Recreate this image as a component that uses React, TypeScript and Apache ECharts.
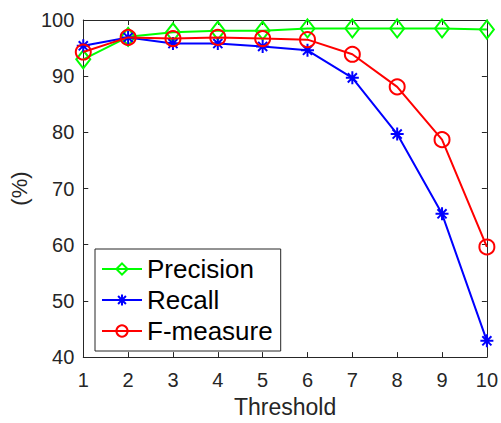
import React, { useEffect, useRef } from "react";
import * as echarts from "echarts";

const thresholds = [1, 2, 3, 4, 5, 6, 7, 8, 9, 10];
const precision = [93.0, 97.0, 97.8, 98.1, 98.1, 98.5, 98.5, 98.5, 98.5, 98.3];
const recall = [95.4, 96.9, 95.8, 95.8, 95.3, 94.6, 89.7, 79.7, 65.5, 42.9];
const fmeasure = [94.3, 96.9, 96.7, 96.9, 96.7, 96.5, 93.9, 88.1, 78.7, 59.6];
const seriesNames = ["Precision", "Recall", "F-measure"];

const FONT = "Liberation Sans, Arial, Helvetica, sans-serif";
const AX = "#262626";
const STAR = "path://M10,0 L10,20 M0,10 L20,10 M3,3 L17,17 M3,17 L17,3";

export default function App() {
  const ref = useRef<HTMLDivElement>(null);
  useEffect(() => {
    if (!ref.current) return;
    const chart = echarts.init(ref.current, null, { renderer: "svg" });
    const pairs = (vals: number[]) => thresholds.map((t, i) => [t, vals[i]]);
    const axisCommon = {
      axisLine: { show: true, lineStyle: { color: AX, width: 1 } },
      axisTick: { show: true, inside: true, length: 5, lineStyle: { color: AX } },
      splitLine: { show: false },
    };
    chart.setOption({
      animation: false,
      backgroundColor: "#fff",
      textStyle: { fontFamily: FONT },
      grid: { left: 82, right: 12, top: 20, bottom: 58, containLabel: false },
      legend: {
        data: seriesNames,
        orient: "vertical",
        left: 95,
        top: 249,
        padding: [7, 8, 7, 6],
        itemGap: 5,
        itemWidth: 40,
        itemHeight: 14,
        borderColor: AX,
        borderWidth: 1,
        backgroundColor: "#fff",
        textStyle: { fontSize: 26, color: "#000", fontFamily: FONT, lineHeight: 26 },
      },
      xAxis: [
        {
          type: "value",
          min: 1,
          max: 10,
          interval: 1,
          name: "Threshold",
          nameLocation: "middle",
          nameGap: 35,
          nameTextStyle: { fontSize: 23, color: AX, fontFamily: FONT },
          axisLabel: { fontSize: 20, color: AX, margin: 13, fontFamily: FONT },
          ...axisCommon,
        },
        {
          type: "value",
          min: 1,
          max: 10,
          interval: 1,
          position: "top",
          axisLabel: { show: false },
          ...axisCommon,
        },
      ],
      yAxis: [
        {
          type: "value",
          min: 40,
          max: 100,
          interval: 10,
          name: "(%)",
          nameLocation: "middle",
          nameGap: 49,
          nameRotate: 90,
          nameTextStyle: { fontSize: 22, color: AX, fontFamily: FONT },
          axisLabel: { fontSize: 20, color: AX, margin: 9, fontFamily: FONT },
          ...axisCommon,
        },
        {
          type: "value",
          min: 40,
          max: 100,
          interval: 10,
          position: "right",
          axisLabel: { show: false },
          ...axisCommon,
        },
      ],
      series: [
        {
          name: seriesNames[0],
          type: "line",
          data: pairs(precision),
          symbol: "diamond",
          symbolSize: [14, 18],
          lineStyle: { color: "#00ff00", width: 2 },
          itemStyle: { color: "rgba(0,0,0,0)", borderColor: "#00ff00", borderWidth: 2 },
          z: 2,
        },
        {
          name: seriesNames[1],
          type: "line",
          data: pairs(recall),
          symbol: STAR,
          symbolSize: 13,
          lineStyle: { color: "#0000ff", width: 2 },
          itemStyle: { color: "#0000ff", borderColor: "#0000ff", borderWidth: 2 },
          z: 3,
        },
        {
          name: seriesNames[2],
          type: "line",
          data: pairs(fmeasure),
          symbol: "circle",
          symbolSize: 15,
          lineStyle: { color: "#ff0000", width: 2 },
          itemStyle: { color: "rgba(0,0,0,0)", borderColor: "#ff0000", borderWidth: 2 },
          z: 4,
        },
      ],
    });
    return () => chart.dispose();
  }, []);
  return <div ref={ref} style={{ width: 501, height: 423, position: "absolute", left: 0, top: 0 }} />;
}
